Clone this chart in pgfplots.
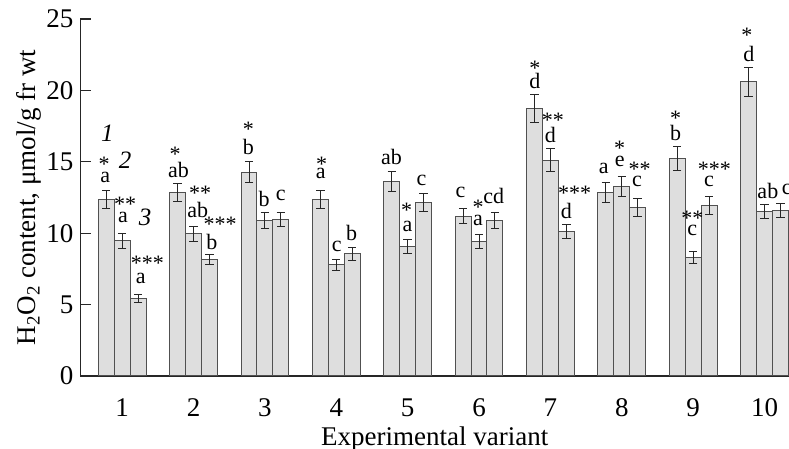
\documentclass[border=0pt]{standalone}
\usepackage{fontspec}
\setmainfont{Liberation Serif}
\usepackage{pgfplots}
\usepackage{pgfplotstable}
\pgfplotsset{compat=1.18}

% x, value, error (bars 1, 2, 3 of each variant)
\pgfplotstableread{
x y e
0.777 12.37 0.61
1.777 12.84 0.61
2.777 14.26 0.73
3.777 12.37 0.61
4.777 13.59 0.70
5.777 11.20 0.54
6.777 18.70 0.98
7.777 12.84 0.68
8.777 15.22 0.84
9.777 20.59 1.03
}\sera
\pgfplotstableread{
x y e
1 9.47 0.52
2 9.96 0.54
3 10.88 0.56
4 7.79 0.38
5 9.08 0.49
6 9.40 0.49
7 15.11 0.79
8 13.26 0.70
9 8.33 0.42
10 11.53 0.51
}\serb
\pgfplotstableread{
x y e
1.223 5.44 0.30
2.223 8.19 0.35
3.223 10.97 0.51
4.223 8.56 0.45
5.223 12.16 0.63
6.223 10.90 0.54
7.223 10.15 0.49
8.223 11.81 0.61
9.223 11.93 0.63
10.223 11.60 0.51
}\serc

\definecolor{barfill}{HTML}{DEDEDE}
\definecolor{baredge}{HTML}{505050}

\begin{document}
\begin{tikzpicture}[
  lab/.style={font=\fontsize{11}{12}\selectfont, inner sep=0pt},
  st/.style={lab, yshift=-1.5pt},
  num/.style={font=\fontsize{12.5}{14}\selectfont\itshape, inner sep=0pt}]
\begin{axis}[
  scale only axis,
  width=354.25pt, height=178.5pt,
  xmin=0.416, xmax=10.343,
  ymin=0, ymax=25,
  axis x line=bottom, axis y line=left,
  axis line style={-, line width=0.6pt, black!85},
  xtick={1,...,10},
  ytick={0,5,...,25},
  x tick style={draw=none},
  y tick style={line width=0.6pt, black!85},
  tick align=inside,
  major tick length=5pt,
  /pgf/number format/assume math mode=true,
  tick label style={font=\fontsize{13.5}{16}\selectfont},
  xticklabel style={text height=9.2pt, text depth=0pt, yshift=-2.5pt},
  label style={font=\fontsize{13.5}{16}\selectfont},
  xlabel={Experimental variant},
  xlabel style={at={(axis description cs:0.5,0)}, anchor=base, yshift=-35pt},
  ylabel={H\textsubscript{2}O\textsubscript{2} content, μmol/g fr wt},
  ylabel style={at={(axis description cs:-0.073,0.5)}, anchor=center},
  ybar, bar width=0.223, bar shift=0pt,
  clip=false,
  error bars/y dir=both, error bars/y explicit,
  error bars/error mark options={rotate=90, mark size=2.1pt, line width=0.5pt, black!85},
  error bars/error bar style={line width=0.5pt, black!85},
]
\addplot[fill=barfill, draw=baredge, line width=0.5pt] table[x=x, y=y, y error=e] {\sera};
\addplot[fill=barfill, draw=baredge, line width=0.5pt] table[x=x, y=y, y error=e] {\serb};
\addplot[fill=barfill, draw=baredge, line width=0.5pt] table[x=x, y=y, y error=e] {\serc};

\coordinate (bl) at (rel axis cs:0,0);
\coordinate (tr) at (rel axis cs:1,1);

% series numbers
\node[num] at (axis cs:0.794,17.0) {1};
\node[num] at (axis cs:1.042,15.13) {2};
\node[num] at (axis cs:1.322,11.11) {3};

% variant 1
\node[st] at (axis cs:0.748,15.06) {*};
\node[lab] at (axis cs:0.762,13.89) {a};
\node[st] at (axis cs:1.042,12.21) {**};
\node[lab] at (axis cs:1.01,11.11) {a};
\node[st] at (axis cs:1.354,8.12) {***};
\node[lab] at (axis cs:1.262,6.84) {a};
% variant 2
\node[st] at (axis cs:1.742,15.71) {*};
\node[lab] at (axis cs:1.788,14.43) {ab};
\node[st] at (axis cs:2.092,13.03) {**};
\node[lab] at (axis cs:2.06,11.62) {ab};
\node[st] at (axis cs:2.372,10.81) {***};
\node[lab] at (axis cs:2.256,9.41) {b};
% variant 3
\node[st] at (axis cs:2.768,17.46) {*};
\node[lab] at (axis cs:2.768,16.06) {b};
\node[lab] at (axis cs:2.988,12.37) {b};
\node[lab] at (axis cs:3.221,12.68) {c};
% variant 4
\node[st] at (axis cs:3.795,15.01) {*};
\node[lab] at (axis cs:3.781,14.19) {a};
\node[lab] at (axis cs:4.005,9.05) {c};
\node[lab] at (axis cs:4.215,9.99) {b};
% variant 5
\node[lab] at (axis cs:4.775,15.32) {ab};
\node[st] at (axis cs:4.985,11.81) {*};
\node[lab] at (axis cs:4.999,10.50) {a};
\node[lab] at (axis cs:5.195,13.73) {c};
% variant 6
\node[lab] at (axis cs:5.741,12.84) {c};
\node[st] at (axis cs:5.987,12.04) {*};
\node[lab] at (axis cs:5.987,10.88) {a};
\node[lab] at (axis cs:6.207,12.61) {cd};
% variant 7
\node[st] at (axis cs:6.781,21.78) {*};
\node[lab] at (axis cs:6.781,20.66) {d};
\node[st] at (axis cs:7.033,18.14) {**};
\node[lab] at (axis cs:7.001,16.88) {d};
\node[st] at (axis cs:7.341,13.03) {***};
\node[lab] at (axis cs:7.225,11.58) {d};
% variant 8
\node[lab] at (axis cs:7.747,14.54) {a};
\node[st] at (axis cs:7.971,16.18) {*};
\node[lab] at (axis cs:7.971,15.01) {e};
\node[st] at (axis cs:8.251,14.66) {**};
\node[lab] at (axis cs:8.213,13.61) {c};
% variant 9
\node[st] at (axis cs:8.755,18.28) {*};
\node[lab] at (axis cs:8.755,17.0) {b};
\node[st] at (axis cs:8.989,11.27) {**};
\node[lab] at (axis cs:8.989,10.22) {c};
\node[st] at (axis cs:9.297,14.66) {***};
\node[lab] at (axis cs:9.221,13.61) {c};
% variant 10
\node[st] at (axis cs:9.753,24.04) {*};
\node[lab] at (axis cs:9.781,22.55) {d};
\node[lab] at (axis cs:10.047,12.98) {ab};
\node[lab] at (axis cs:10.313,13.07) {c};
\end{axis}
\pgfresetboundingbox
\path[use as bounding box] ([xshift=-40.25pt, yshift=-36.5pt]bl) rectangle ([yshift=9.5pt]tr);
\end{tikzpicture}
\end{document}
